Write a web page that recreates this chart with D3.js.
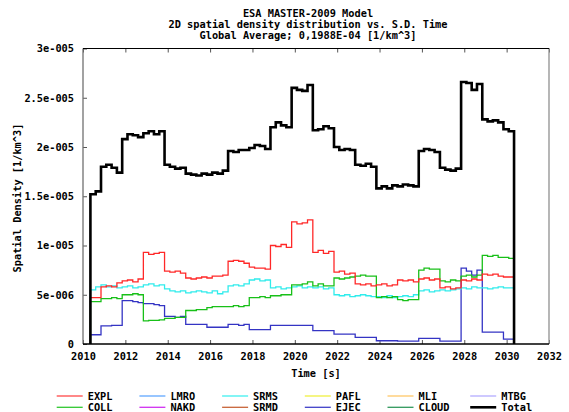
<!DOCTYPE html>
<html>
<head>
<meta charset="utf-8">
<script src="https://cdn.jsdelivr.net/npm/d3@7"></script>
<style>
  body { margin: 0; background: #fff; }
  text { font-family: "DejaVu Sans Mono", monospace; font-weight: bold; font-size: 10.3px; fill: #000; }
</style>
</head>
<body>
<div id="chart"></div>
<script>
// time grid (start of each step, in years) — last entry is the end of the record
const times = [2010.35, 2010.60, 2010.85, 2011.10, 2011.35, 2011.60, 2011.85, 2012.10, 2012.35, 2012.60,
               2012.85, 2013.10, 2013.35, 2013.60, 2013.85, 2014.10, 2014.35, 2014.60, 2014.85, 2015.10,
               2015.35, 2015.60, 2015.85, 2016.10, 2016.35, 2016.60, 2016.85, 2017.10, 2017.35, 2017.60,
               2017.85, 2018.10, 2018.35, 2018.60, 2018.85, 2019.10, 2019.35, 2019.60, 2019.85, 2020.10,
               2020.35, 2020.60, 2020.85, 2021.10, 2021.35, 2021.60, 2021.85, 2022.10, 2022.35, 2022.60,
               2022.85, 2023.10, 2023.35, 2023.60, 2023.85, 2024.10, 2024.35, 2024.60, 2024.85, 2025.10,
               2025.35, 2025.60, 2025.85, 2026.10, 2026.35, 2026.60, 2026.85, 2027.10, 2027.35, 2027.60,
               2027.85, 2028.10, 2028.35, 2028.60, 2028.85, 2029.10, 2029.35, 2029.60, 2029.85, 2030.10,
               2030.35];

// densities in units of 1e-5 [1/km^3], one value per step
const expl = [0.47, 0.47, 0.58, 0.59, 0.58, 0.62, 0.64, 0.65, 0.63, 0.66,
              0.93, 0.91, 0.92, 0.93, 0.74, 0.73, 0.74, 0.72, 0.67, 0.66,
              0.67, 0.68, 0.67, 0.69, 0.69, 0.70, 0.84, 0.85, 0.84, 0.82,
              0.78, 0.77, 0.77, 0.76, 1.00, 0.99, 1.01, 0.98, 1.24, 1.22,
              1.23, 1.26, 0.93, 0.95, 0.92, 0.94, 0.73, 0.74, 0.71, 0.72,
              0.61, 0.60, 0.61, 0.59, 0.60, 0.61, 0.59, 0.60, 0.65, 0.64,
              0.65, 0.63, 0.66, 0.67, 0.65, 0.66, 0.57, 0.58, 0.56, 0.57,
              0.65, 0.64, 0.66, 0.65, 0.71, 0.70, 0.71, 0.69, 0.68, 0.68];

const coll = [0.43, 0.43, 0.46, 0.46, 0.47, 0.46, 0.50, 0.50, 0.51, 0.50,
              0.235, 0.24, 0.24, 0.245, 0.26, 0.26, 0.27, 0.27, 0.34, 0.34,
              0.35, 0.35, 0.37, 0.38, 0.38, 0.38, 0.38, 0.39, 0.38, 0.39,
              0.47, 0.47, 0.48, 0.47, 0.49, 0.49, 0.50, 0.50, 0.60, 0.60,
              0.61, 0.63, 0.59, 0.61, 0.59, 0.59, 0.67, 0.66, 0.67, 0.68,
              0.69, 0.70, 0.69, 0.69, 0.47, 0.48, 0.47, 0.48, 0.45, 0.44,
              0.45, 0.45, 0.75, 0.77, 0.76, 0.76, 0.64, 0.63, 0.65, 0.64,
              0.69, 0.70, 0.68, 0.70, 0.90, 0.89, 0.90, 0.88, 0.88, 0.87];

const srms = [0.55, 0.58, 0.60, 0.58, 0.59, 0.57, 0.58, 0.59, 0.57, 0.58,
              0.60, 0.61, 0.59, 0.60, 0.56, 0.54, 0.53, 0.54, 0.52, 0.53,
              0.54, 0.53, 0.52, 0.54, 0.51, 0.53, 0.59, 0.60, 0.59, 0.61,
              0.65, 0.66, 0.64, 0.65, 0.57, 0.58, 0.56, 0.57, 0.58, 0.59,
              0.57, 0.58, 0.57, 0.58, 0.56, 0.57, 0.50, 0.49, 0.50, 0.48,
              0.49, 0.50, 0.49, 0.48, 0.48, 0.47, 0.49, 0.47, 0.48, 0.49,
              0.48, 0.50, 0.54, 0.55, 0.53, 0.54, 0.55, 0.54, 0.55, 0.56,
              0.57, 0.56, 0.58, 0.57, 0.57, 0.56, 0.57, 0.58, 0.57, 0.57];

const ejec = [0.094, 0.094, 0.185, 0.185, 0.19, 0.19, 0.44, 0.44, 0.43, 0.42,
              0.41, 0.41, 0.40, 0.39, 0.28, 0.28, 0.27, 0.28, 0.20, 0.20,
              0.20, 0.20, 0.17, 0.17, 0.17, 0.17, 0.20, 0.20, 0.19, 0.20,
              0.145, 0.145, 0.145, 0.145, 0.19, 0.19, 0.19, 0.19, 0.19, 0.19,
              0.19, 0.19, 0.135, 0.135, 0.135, 0.135, 0.10, 0.10, 0.10, 0.10,
              0.067, 0.067, 0.067, 0.067, 0.033, 0.033, 0.033, 0.033, 0.03, 0.03,
              0.03, 0.03, 0.057, 0.057, 0.057, 0.057, 0.03, 0.03, 0.03, 0.03,
              0.77, 0.74, 0.70, 0.75, 0.12, 0.12, 0.12, 0.12, 0.05, 0.05];

const total = [1.52, 1.55, 1.80, 1.82, 1.79, 1.74, 2.08, 2.13, 2.12, 2.10,
               2.14, 2.16, 2.13, 2.16, 1.82, 1.80, 1.78, 1.79, 1.73, 1.72,
               1.71, 1.73, 1.72, 1.74, 1.73, 1.76, 1.96, 1.95, 1.97, 1.97,
               1.99, 2.02, 2.01, 1.98, 2.20, 2.25, 2.22, 2.20, 2.60, 2.58,
               2.57, 2.63, 2.17, 2.18, 2.21, 2.19, 2.00, 1.97, 1.98, 1.97,
               1.82, 1.81, 1.83, 1.80, 1.58, 1.60, 1.58, 1.61, 1.60, 1.62,
               1.61, 1.60, 1.96, 1.98, 1.97, 1.95, 1.79, 1.77, 1.76, 1.78,
               2.66, 2.65, 2.58, 2.64, 2.28, 2.26, 2.27, 2.25, 2.18, 2.16];

const xTicks = [2010, 2012, 2014, 2016, 2018, 2020, 2022, 2024, 2026, 2028, 2030, 2032];
const yTicks = [0, 0.5e-5, 1e-5, 1.5e-5, 2e-5, 2.5e-5, 3e-5];
const yTickLabels = ["0", "5e-006", "1e-005", "1.5e-005", "2e-005", "2.5e-005", "3e-005"];

const legendNames = ["EXPL", "COLL", "LMRO", "NAKD", "SRMS", "SRMD", "PAFL", "EJEC", "MLI", "CLOUD", "MTBG", "Total"];
const legendColors = ["#ff4848", "#30c830", "#60a8ff", "#d030f0", "#40f0f0", "#c86438", "#f0f040", "#4040c8", "#ffc868", "#30985c", "#b4acff", "#000000"];

const width = 569, height = 412;
const plot = { left: 83, right: 549, top: 48.5, bottom: 344 };

const svg = d3.select("#chart")
              .append("svg")
              .attr("width", width)
              .attr("height", height);

const x = d3.scaleLinear().domain([2010, 2032]).range([plot.left, plot.right]);
const y = d3.scaleLinear().domain([0, 3e-5]).range([plot.bottom, plot.top]);

// titles
const titles = ["ESA MASTER-2009 Model",
                "2D spatial density distribution vs. S.D. Time",
                "Global Average; 0,1988E-04 [1/km^3]"];
svg.selectAll("text.title")
   .data(titles)
   .join("text")
   .attr("class", "title")
   .attr("x", 308)
   .attr("y", (d, i) => 16.5 + i * 11)
   .attr("text-anchor", "middle")
   .text(d => d);

// axes with inward ticks
svg.append("g")
   .attr("transform", `translate(0, ${plot.bottom})`)
   .call(d3.axisBottom(x).tickValues(xTicks).tickFormat(d3.format("d"))
           .tickSizeInner(-4).tickSizeOuter(0).tickPadding(9))
   .call(g => g.select(".domain").remove());

svg.append("g")
   .attr("transform", `translate(0, ${plot.top})`)
   .call(d3.axisTop(x).tickValues(xTicks).tickFormat("")
           .tickSizeInner(-4).tickSizeOuter(0))
   .call(g => g.select(".domain").remove());

svg.append("g")
   .attr("transform", `translate(${plot.left}, 0)`)
   .call(d3.axisLeft(y).tickValues(yTicks).tickFormat((d, i) => yTickLabels[i])
           .tickSizeInner(-4).tickSizeOuter(0).tickPadding(9))
   .call(g => g.select(".domain").remove());

svg.selectAll(".tick text")
   .style("font-family", "'DejaVu Sans Mono', monospace")
   .style("font-weight", "bold")
   .style("font-size", "10.3px")
   .attr("fill", "#000");
svg.selectAll(".tick line").attr("stroke", "#555");

// frame: left/right grey, top black
svg.append("line").attr("x1", plot.left).attr("x2", plot.left).attr("y1", plot.top).attr("y2", plot.bottom)
   .attr("stroke", "#707070").attr("stroke-width", 1.3);
svg.append("line").attr("x1", plot.right).attr("x2", plot.right).attr("y1", plot.top).attr("y2", plot.bottom)
   .attr("stroke", "#909090").attr("stroke-width", 1.3);
svg.append("line").attr("x1", plot.left).attr("x2", plot.right).attr("y1", plot.top).attr("y2", plot.top)
   .attr("stroke", "#000").attr("stroke-width", 1.2);

// step lines
const line = d3.line()
               .x(d => x(d[0]))
               .y(d => y(d[1]))
               .curve(d3.curveStepAfter);

const toPoints = vals => {
    const pts = [[times[0], 0]];
    vals.forEach((v, i) => pts.push([times[i], v * 1e-5]));
    pts.push([times[times.length - 1], 0]);
    return pts;
};

const series = [
    { values: ejec,  color: "#3434c4", w: 1.3 },
    { values: srms,  color: "#30ecec", w: 1.3 },
    { values: coll,  color: "#18c018", w: 1.3 },
    { values: expl,  color: "#ff2828", w: 1.3 },
    { values: total, color: "#000",    w: 2.6 }
];

svg.selectAll("path.series")
   .data(series)
   .join("path")
   .attr("class", "series")
   .attr("d", d => line(toPoints(d.values)))
   .attr("fill", "none")
   .attr("stroke", d => d.color)
   .attr("stroke-width", d => d.w);

svg.append("line").attr("x1", plot.left).attr("x2", plot.right).attr("y1", plot.bottom).attr("y2", plot.bottom)
   .attr("stroke", "#000").attr("stroke-width", 1.3);

// axis titles
svg.append("text")
   .attr("x", 316)
   .attr("y", 377)
   .attr("text-anchor", "middle")
   .text("Time [s]");

svg.append("text")
   .attr("transform", `translate(21, 198) rotate(-90)`)
   .attr("text-anchor", "middle")
   .text("Spatial Density [1/km^3]");

// legend: 6 columns x 2 rows
const legend = svg.append("g");
const item = legend.selectAll("g")
                   .data(legendNames)
                   .join("g")
                   .attr("transform", (d, i) => `translate(${56.7 + Math.floor(i / 2) * 82.7}, ${396 + (i % 2) * 11.3})`);

item.append("line")
    .attr("x1", 0)
    .attr("x2", 26)
    .attr("stroke", (d, i) => legendColors[i])
    .attr("stroke-width", (d, i) => i === 11 ? 2.6 : 1.3);

item.append("text")
    .attr("x", 31)
    .attr("y", 3.7)
    .text(d => d);
</script>
</body>
</html>
